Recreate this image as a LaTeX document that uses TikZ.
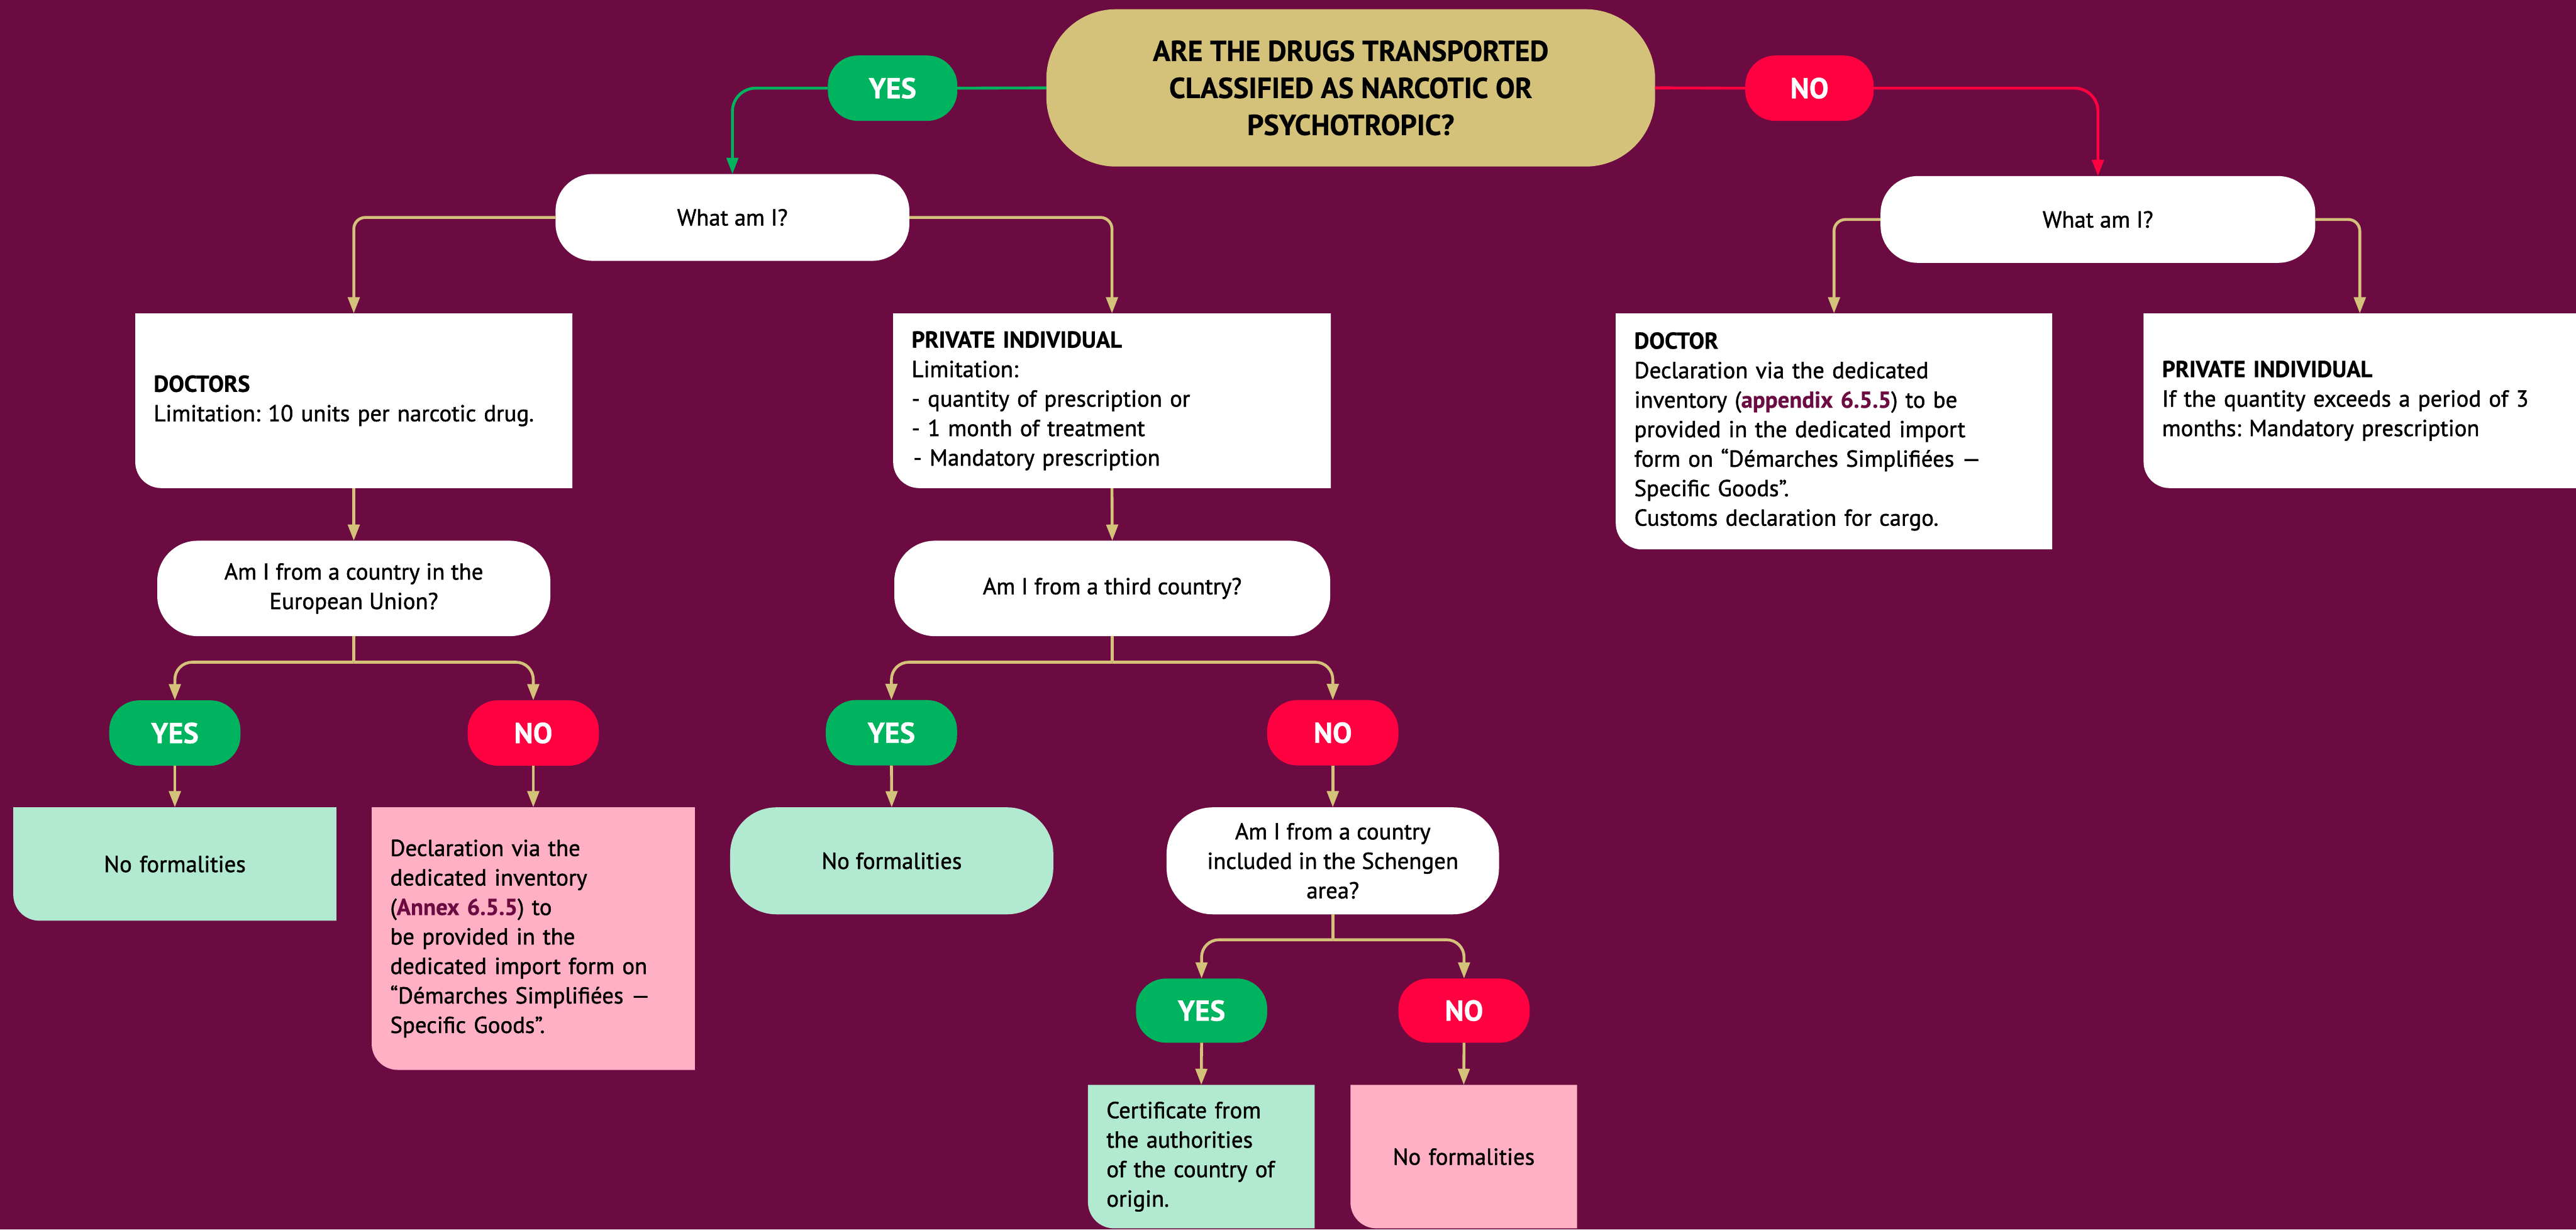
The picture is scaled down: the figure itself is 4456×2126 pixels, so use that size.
\documentclass[tikz,border=0pt]{standalone}
\usepackage{fontspec}
\setmainfont{PT Sans}[UprightFeatures={FakeBold=1.3}, BoldFeatures={FakeBold=0.6}]
\usetikzlibrary{arrows.meta}
\definecolor{plum}{HTML}{6C0B41}
\definecolor{sand}{HTML}{D4C17A}
\definecolor{okgreen}{HTML}{00B35F}
\definecolor{nored}{HTML}{FF0040}
\definecolor{mint}{HTML}{B2E9D1}
\definecolor{rose}{HTML}{FFB0C4}
\pgfdeclarelayer{paper}
\pgfdeclarelayer{panels}
\pgfsetlayers{paper,panels,main}
\frenchspacing
\newcommand\bodyfont{\fontsize{10pt}{12.75pt}\selectfont}
\newcommand\bigfont{\fontsize{12.5pt}{16pt}\selectfont}
\newcommand\annex[1]{\textbf{\color{plum}#1}}
% panel with only its lower left corner rounded
\newcommand\tabfill[2]{\fill[#2] (#1.north west) -- (#1.north east) -- (#1.south east) -- ([xshift=11.25pt]#1.south west) arc[start angle=270, end angle=180, radius=11.25pt] -- cycle;}

\begin{document}
\begin{tikzpicture}[x=0.25pt, y=-0.25pt,
  every node/.style={inner sep=0pt, outer sep=0pt},
  pill/.style={fill=#1, rounded corners=13pt, minimum width=56.75pt, minimum height=28.25pt, text=white, font=\bigfont\bfseries},
  ask/.style={fill=white, rounded corners=#1, align=center, font=\bodyfont},
  panel/.style={anchor=north west, inner xsep=8pt, align=left, font=\bodyfont},
  wire/.style={draw=sand, line width=1.25pt},
  conn/.style={wire, -{Triangle[length=7pt,width=5pt]}},
]
\useasboundingbox (0,0) rectangle (4456,2126);
\begin{pgfonlayer}{paper}
  \fill[plum] (0,0) rectangle (4456,2126);
\end{pgfonlayer}

% top question and first answers
\node[fill=sand, rounded corners=30pt, minimum width=263.25pt, minimum height=68pt, align=center, font=\bigfont\bfseries] (q0) at (2336.5,152)
  {ARE THE DRUGS TRANSPORTED\\CLASSIFIED AS NARCOTIC OR\\PSYCHOTROPIC?};
\node[pill=okgreen, minimum width=56pt] (yes0) at (1544,152.5) {YES};
\node[pill=nored, minimum width=55.5pt] (no0) at (3130,152.5) {NO};

\node[ask=16pt, minimum width=153pt, minimum height=37.5pt] (who1) at (1267,376) {What am I?};
\node[ask=16pt, minimum width=188pt, minimum height=37.5pt] (who2) at (3629,379.5) {What am I?};

% profile panels
\node[panel, text width=173pt, minimum height=75.5pt] (doc1) at (234,542)
  {\textbf{DOCTORS}\\Limitation: 10 units per narcotic drug.};
\node[panel, text width=173.25pt, minimum height=75.5pt] (pi1) at (1545,542)
  {\textbf{PRIVATE INDIVIDUAL}\\Limitation:\\- quantity of prescription or\\- 1 month of treatment\\\hspace{0.8pt}- Mandatory prescription};
\node[panel, text width=172.75pt, minimum height=102pt] (doc2) at (2795,542)
  {\textbf{DOCTOR}\\Declaration via the dedicated\\inventory (\annex{appendix 6.5.5}) to be\\provided in the dedicated import\\form on “Démarches Simplifiées —\\Specific Goods”.\\Customs declaration for cargo.};
\node[panel, text width=171pt, minimum height=75.5pt] (pi2) at (3708,542)
  {\textbf{PRIVATE INDIVIDUAL}\\If the quantity exceeds a period of 3\\months: Mandatory prescription};

% second level questions
\node[ask=17.5pt, minimum width=170pt, minimum height=41.25pt] (q1) at (612,1017.5)
  {Am I from a country in the\\European Union?};
\node[ask=17.5pt, minimum width=188.5pt, minimum height=41.25pt] (q2) at (1924,1017.5)
  {Am I from a third country?};

\node[pill=okgreen] (yes1) at (302.5,1267.5) {YES};
\node[pill=nored] (no1) at (922.5,1267.5) {NO};
\node[pill=okgreen] (yes2) at (1542,1267) {YES};
\node[pill=nored] (no2) at (2305.5,1267) {NO};

% outcomes
\node[panel, text width=123.75pt, minimum height=49pt, align=center] (leafA) at (23,1396) {No formalities};
\node[panel, text width=123.75pt, minimum height=113.5pt] (leafB) at (643,1396)
  {Declaration via the\\dedicated inventory\\(\annex{Annex 6.5.5}) to\\be provided in the\\dedicated import form on\\“Démarches Simplifiées —\\Specific Goods”.};
\node[fill=mint, rounded corners=20pt, minimum width=139.75pt, minimum height=46.25pt, font=\bodyfont] (leafC) at (1542.5,1488.5) {No formalities};
\node[ask=20pt, minimum width=143.75pt, minimum height=46.25pt] (q3) at (2305.5,1488.5)
  {Am I from a country\\included in the Schengen\\area?};

\node[pill=okgreen, minimum height=27.75pt] (yes3) at (2078.5,1747.5) {YES};
\node[pill=nored, minimum height=27.75pt] (no3) at (2532.5,1747.5) {NO};

\node[panel, text width=82pt, minimum height=62pt] (leafD) at (1882,1876)
  {Certificate from\\the authorities\\of the country of\\origin.};
\node[panel, text width=82pt, minimum height=62pt, align=center] (leafE) at (2336,1876) {No formalities};

\begin{pgfonlayer}{panels}
  \tabfill{doc1}{white}
  \tabfill{pi1}{white}
  \tabfill{doc2}{white}
  \tabfill{pi2}{white}
  \tabfill{leafA}{mint}
  \tabfill{leafB}{rose}
  \tabfill{leafD}{mint}
  \tabfill{leafE}{rose}
\end{pgfonlayer}

% connectors from the top question
\draw[wire, draw=okgreen] (q0.west) -- (yes0.east);
\draw[conn, draw=okgreen, rounded corners=10pt] (yes0.west) -| (who1.north);
\draw[wire, draw=nored] (q0.east) -- (no0.west);
\draw[conn, draw=nored, rounded corners=10pt] (no0.east) -| (who2.north);

\draw[conn, rounded corners=5pt] (who1.west) -| (doc1.north);
\draw[conn, rounded corners=5pt] (who1.east) -| (pi1.north);
\draw[conn, rounded corners=5pt] (who2.west) -| (doc2.north);
\draw[conn, rounded corners=5pt] (who2.east) -| (pi2.north);

\draw[conn] (doc1.south) -- (q1.north);
\draw[conn] (pi1.south) -- (q2.north);

% forks
\coordinate (c1) at (612,1145);
\coordinate (c2) at (1924,1145);
\coordinate (c3) at (2305.5,1625);
\draw[wire] (q1.south) -- (c1);
\draw[conn, rounded corners=7.5pt] (c1) -| (yes1.north);
\draw[conn, rounded corners=7.5pt] (c1) -| (no1.north);
\draw[wire] (q2.south) -- (c2);
\draw[conn, rounded corners=7.5pt] (c2) -| (yes2.north);
\draw[conn, rounded corners=7.5pt] (c2) -| (no2.north);
\draw[wire] (q3.south) -- (c3);
\draw[conn, rounded corners=7.5pt] (c3) -| (yes3.north);
\draw[conn, rounded corners=7.5pt] (c3) -| (no3.north);

\draw[conn] (yes1.south) -- (leafA.north);
\draw[conn] (no1.south) -- (leafB.north);
\draw[conn] (yes2.south) -- (leafC.north);
\draw[conn] (no2.south) -- (q3.north);
\draw[conn] (yes3.south) -- (leafD.north);
\draw[conn] (no3.south) -- (leafE.north);
\end{tikzpicture}
\end{document}
